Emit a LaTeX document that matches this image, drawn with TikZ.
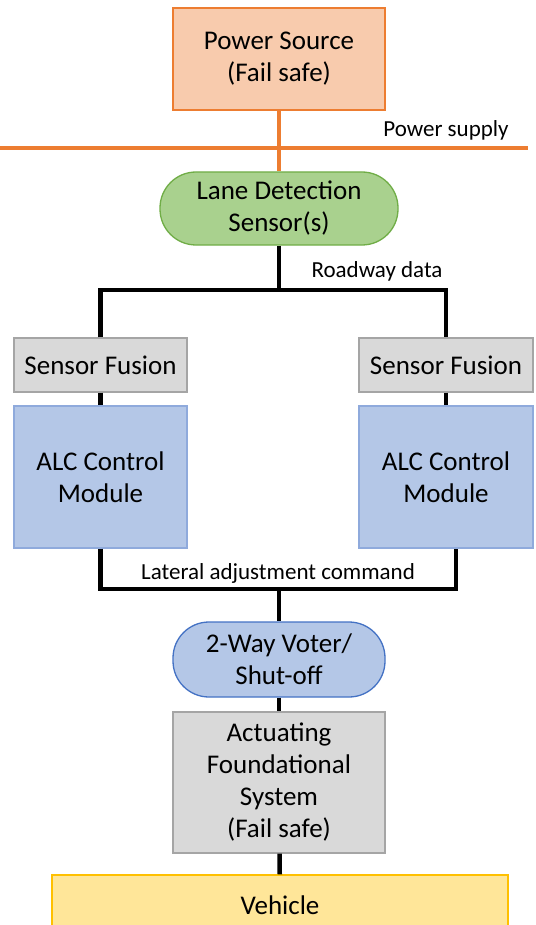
\documentclass[tikz,border=0pt]{standalone}
\usepackage{fontspec}
\setmainfont{Carlito}
\usetikzlibrary{positioning}
\definecolor{srcfill}{HTML}{F8CBAD}
\definecolor{srcline}{HTML}{ED7D31}
\definecolor{lanefill}{HTML}{A9D18E}
\definecolor{laneline}{HTML}{70AD47}
\definecolor{greyfill}{HTML}{D9D9D9}
\definecolor{greyline}{HTML}{A5A5A5}
\definecolor{alcfill}{HTML}{B4C7E7}
\definecolor{alcline}{HTML}{8FAADC}
\definecolor{voteline}{HTML}{4472C4}
\definecolor{vehfill}{HTML}{FFE699}
\definecolor{vehline}{HTML}{FFC000}

\tikzset{block/.style={draw,line width=1.3pt,align=center,inner sep=0pt,font=\fontsize{27}{32}\selectfont},
         pill/.style={block,rounded corners=36pt},
         wire/.style={line width=4.5pt,line join=miter},
         lbl/.style={font=\fontsize{23}{27}\selectfont,inner sep=0pt}}

\begin{document}
\begin{tikzpicture}[x=1pt,y=-1pt]
        \useasboundingbox (0,0) rectangle (535,925);
        % power
        \node[block,fill=srcfill,draw=srcline,minimum width=212,minimum height=102] (power) at (279,59) {Power Source\\(Fail safe)};
        \node[pill,fill=lanefill,draw=laneline,minimum width=238,minimum height=73] (lane) at (279,208.5) {Lane Detection\\Sensor(s)};
        \coordinate (busL) at (0,148);
        \coordinate (busR) at (528,148);
        \draw[srcline,line width=3.5pt] (busL) -- (busR);
        \draw[srcline,line width=3.5pt] (power.south) -- (lane.north);
        \node[lbl] (supply) at (446,130) {Power supply};
        % two channels
        \node[block,fill=greyfill,draw=greyline,minimum width=173,minimum height=54] (sfL) at (100.5,365) {Sensor Fusion};
        \node[block,fill=greyfill,draw=greyline,minimum width=174,minimum height=54] (sfR) at (446,365) {Sensor Fusion};
        \node[block,fill=alcfill,draw=alcline,minimum width=173,minimum height=142] (alcL) at (100.5,477) {ALC Control\\Module};
        \node[block,fill=alcfill,draw=alcline,minimum width=174,minimum height=142] (alcR) at (446,477) {ALC Control\\Module};
        \coordinate (split) at (279,290);
        \coordinate (merge) at (279,589);
        \draw[wire] (lane.south) -- (split);
        \draw[wire] (sfL.north) -- (sfL.north |- split) -- (sfR.north |- split) -- (sfR.north);
        \node[lbl] (road) at (377,271) {Roadway data};
        \draw[wire] (sfL) -- (alcL);
        \draw[wire] (sfR) -- (alcR);
        \draw[wire] (alcL.south) -- (alcL.south |- merge) -- ([xshift=10pt]alcR.south |- merge) -- ([xshift=10pt]alcR.south);
        \node[lbl] (lateral) at (278,573) {Lateral adjustment command};
        % output side
        \node[pill,fill=alcfill,draw=voteline,minimum width=212,minimum height=75] (voter) at (279,659.5) {2-Way Voter/\\Shut-off};
        \node[block,fill=greyfill,draw=greyline,minimum width=212,minimum height=141] (act) at (279,782.5) {Actuating\\Foundational\\System\\(Fail safe)};
        \node[block,fill=vehfill,draw=vehline,minimum width=456,minimum height=60] (vehicle) at (280,905) {Vehicle};
        \draw[wire] (merge) -- (voter.north);
        \draw[wire] (voter) -- (act);
        \draw[wire] (act) -- (vehicle);
\end{tikzpicture}
\end{document}
